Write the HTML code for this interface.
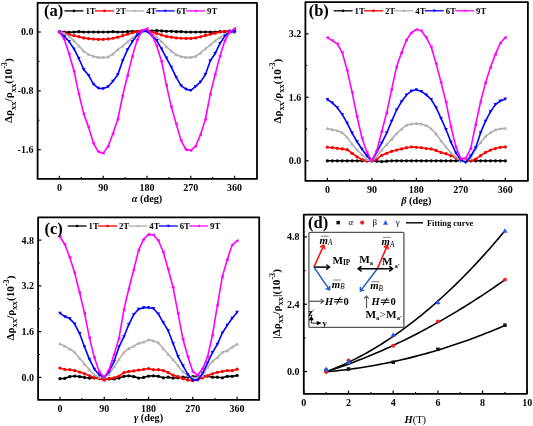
<!DOCTYPE html>
<html><head><meta charset="utf-8"><style>html,body{margin:0;padding:0;background:#fff;}svg{display:block;will-change:transform;}text{font-family:"Liberation Serif",serif;fill:#000;}</style></head><body>
<svg width="533" height="426" viewBox="0 0 533 426">
<rect width="533" height="426" fill="#fff"/>
<polyline points="59.4,32 64.27,32 69.13,32.37 74,32 78.87,31.63 83.73,32 88.6,32 93.47,32 98.34,32 103.2,32 108.07,32 112.94,31.63 117.8,32 122.67,32 127.54,31.63 132.41,31.27 137.27,31.27 142.14,31.27 147.01,31.27 151.87,30.9 156.74,30.53 161.61,30.9 166.47,31.27 171.34,31.27 176.21,31.63 181.08,31.63 185.94,32 190.81,32 195.68,32 200.54,32 205.41,32 210.28,32 215.14,32 220.01,31.63 224.88,31.63 229.75,31.63 234.61,32" fill="none" stroke="#000000" stroke-width="1.6" stroke-linejoin="round" stroke-linecap="round"/>
<circle cx="59.4" cy="32" r="1.62" fill="#000000"/>
<circle cx="64.27" cy="32" r="1.62" fill="#000000"/>
<circle cx="69.13" cy="32.37" r="1.62" fill="#000000"/>
<circle cx="74" cy="32" r="1.62" fill="#000000"/>
<circle cx="78.87" cy="31.63" r="1.62" fill="#000000"/>
<circle cx="83.73" cy="32" r="1.62" fill="#000000"/>
<circle cx="88.6" cy="32" r="1.62" fill="#000000"/>
<circle cx="93.47" cy="32" r="1.62" fill="#000000"/>
<circle cx="98.34" cy="32" r="1.62" fill="#000000"/>
<circle cx="103.2" cy="32" r="1.62" fill="#000000"/>
<circle cx="108.07" cy="32" r="1.62" fill="#000000"/>
<circle cx="112.94" cy="31.63" r="1.62" fill="#000000"/>
<circle cx="117.8" cy="32" r="1.62" fill="#000000"/>
<circle cx="122.67" cy="32" r="1.62" fill="#000000"/>
<circle cx="127.54" cy="31.63" r="1.62" fill="#000000"/>
<circle cx="132.41" cy="31.27" r="1.62" fill="#000000"/>
<circle cx="137.27" cy="31.27" r="1.62" fill="#000000"/>
<circle cx="142.14" cy="31.27" r="1.62" fill="#000000"/>
<circle cx="147.01" cy="31.27" r="1.62" fill="#000000"/>
<circle cx="151.87" cy="30.9" r="1.62" fill="#000000"/>
<circle cx="156.74" cy="30.53" r="1.62" fill="#000000"/>
<circle cx="161.61" cy="30.9" r="1.62" fill="#000000"/>
<circle cx="166.47" cy="31.27" r="1.62" fill="#000000"/>
<circle cx="171.34" cy="31.27" r="1.62" fill="#000000"/>
<circle cx="176.21" cy="31.63" r="1.62" fill="#000000"/>
<circle cx="181.08" cy="31.63" r="1.62" fill="#000000"/>
<circle cx="185.94" cy="32" r="1.62" fill="#000000"/>
<circle cx="190.81" cy="32" r="1.62" fill="#000000"/>
<circle cx="195.68" cy="32" r="1.62" fill="#000000"/>
<circle cx="200.54" cy="32" r="1.62" fill="#000000"/>
<circle cx="205.41" cy="32" r="1.62" fill="#000000"/>
<circle cx="210.28" cy="32" r="1.62" fill="#000000"/>
<circle cx="215.14" cy="32" r="1.62" fill="#000000"/>
<circle cx="220.01" cy="31.63" r="1.62" fill="#000000"/>
<circle cx="224.88" cy="31.63" r="1.62" fill="#000000"/>
<circle cx="229.75" cy="31.63" r="1.62" fill="#000000"/>
<circle cx="234.61" cy="32" r="1.62" fill="#000000"/>
<polyline points="59.4,32 64.27,32.81 69.13,34.43 74,35.67 78.87,36.7 83.73,37.88 88.6,38.62 93.47,39.06 98.34,39.35 103.2,39.35 108.07,38.98 112.94,38.25 117.8,37.15 122.67,35.67 127.54,34.2 132.41,32.73 137.27,31.63 142.14,30.9 147.01,30.9 151.87,32 156.74,33.47 161.61,34.94 166.47,36.41 171.34,37.15 176.21,37.88 181.08,38.25 185.94,38.39 190.81,38.39 195.68,37.88 200.54,36.78 205.41,35.38 210.28,34.2 215.14,33.18 220.01,32 224.88,31.27 229.75,30.97 234.61,31.27" fill="none" stroke="#ff0000" stroke-width="1.6" stroke-linejoin="round" stroke-linecap="round"/>
<circle cx="59.4" cy="32" r="1.62" fill="#ff0000"/>
<circle cx="64.27" cy="32.81" r="1.62" fill="#ff0000"/>
<circle cx="69.13" cy="34.43" r="1.62" fill="#ff0000"/>
<circle cx="74" cy="35.67" r="1.62" fill="#ff0000"/>
<circle cx="78.87" cy="36.7" r="1.62" fill="#ff0000"/>
<circle cx="83.73" cy="37.88" r="1.62" fill="#ff0000"/>
<circle cx="88.6" cy="38.62" r="1.62" fill="#ff0000"/>
<circle cx="93.47" cy="39.06" r="1.62" fill="#ff0000"/>
<circle cx="98.34" cy="39.35" r="1.62" fill="#ff0000"/>
<circle cx="103.2" cy="39.35" r="1.62" fill="#ff0000"/>
<circle cx="108.07" cy="38.98" r="1.62" fill="#ff0000"/>
<circle cx="112.94" cy="38.25" r="1.62" fill="#ff0000"/>
<circle cx="117.8" cy="37.15" r="1.62" fill="#ff0000"/>
<circle cx="122.67" cy="35.67" r="1.62" fill="#ff0000"/>
<circle cx="127.54" cy="34.2" r="1.62" fill="#ff0000"/>
<circle cx="132.41" cy="32.73" r="1.62" fill="#ff0000"/>
<circle cx="137.27" cy="31.63" r="1.62" fill="#ff0000"/>
<circle cx="142.14" cy="30.9" r="1.62" fill="#ff0000"/>
<circle cx="147.01" cy="30.9" r="1.62" fill="#ff0000"/>
<circle cx="151.87" cy="32" r="1.62" fill="#ff0000"/>
<circle cx="156.74" cy="33.47" r="1.62" fill="#ff0000"/>
<circle cx="161.61" cy="34.94" r="1.62" fill="#ff0000"/>
<circle cx="166.47" cy="36.41" r="1.62" fill="#ff0000"/>
<circle cx="171.34" cy="37.15" r="1.62" fill="#ff0000"/>
<circle cx="176.21" cy="37.88" r="1.62" fill="#ff0000"/>
<circle cx="181.08" cy="38.25" r="1.62" fill="#ff0000"/>
<circle cx="185.94" cy="38.39" r="1.62" fill="#ff0000"/>
<circle cx="190.81" cy="38.39" r="1.62" fill="#ff0000"/>
<circle cx="195.68" cy="37.88" r="1.62" fill="#ff0000"/>
<circle cx="200.54" cy="36.78" r="1.62" fill="#ff0000"/>
<circle cx="205.41" cy="35.38" r="1.62" fill="#ff0000"/>
<circle cx="210.28" cy="34.2" r="1.62" fill="#ff0000"/>
<circle cx="215.14" cy="33.18" r="1.62" fill="#ff0000"/>
<circle cx="220.01" cy="32" r="1.62" fill="#ff0000"/>
<circle cx="224.88" cy="31.27" r="1.62" fill="#ff0000"/>
<circle cx="229.75" cy="30.97" r="1.62" fill="#ff0000"/>
<circle cx="234.61" cy="31.27" r="1.62" fill="#ff0000"/>
<polyline points="59.4,32 64.27,33.47 69.13,36.41 74,40.82 78.87,45.97 83.73,51.11 88.6,54.42 93.47,56.26 98.34,57.36 103.2,57.36 108.07,56.99 112.94,54.05 117.8,49.64 122.67,45.97 127.54,41.92 132.41,37.88 137.27,34.2 142.14,32 147.01,31.27 151.87,34.2 156.74,37.15 161.61,41.55 166.47,46.7 171.34,51.11 176.21,54.78 181.08,56.62 185.94,57.36 190.81,57.36 195.68,56.26 200.54,52.95 205.41,48.91 210.28,44.86 215.14,40.82 220.01,37.51 224.88,34.57 229.75,32 234.61,31.27" fill="none" stroke="#b0b0b0" stroke-width="1.6" stroke-linejoin="round" stroke-linecap="round"/>
<path d="M59.4 30.2L61.2 33.44L57.6 33.44Z" fill="#b0b0b0"/>
<path d="M64.27 31.67L66.07 34.91L62.47 34.91Z" fill="#b0b0b0"/>
<path d="M69.13 34.61L70.93 37.85L67.33 37.85Z" fill="#b0b0b0"/>
<path d="M74 39.02L75.8 42.26L72.2 42.26Z" fill="#b0b0b0"/>
<path d="M78.87 44.17L80.67 47.41L77.07 47.41Z" fill="#b0b0b0"/>
<path d="M83.73 49.31L85.53 52.55L81.94 52.55Z" fill="#b0b0b0"/>
<path d="M88.6 52.62L90.4 55.86L86.8 55.86Z" fill="#b0b0b0"/>
<path d="M93.47 54.46L95.27 57.7L91.67 57.7Z" fill="#b0b0b0"/>
<path d="M98.34 55.56L100.14 58.8L96.54 58.8Z" fill="#b0b0b0"/>
<path d="M103.2 55.56L105 58.8L101.4 58.8Z" fill="#b0b0b0"/>
<path d="M108.07 55.19L109.87 58.43L106.27 58.43Z" fill="#b0b0b0"/>
<path d="M112.94 52.25L114.74 55.49L111.14 55.49Z" fill="#b0b0b0"/>
<path d="M117.8 47.84L119.6 51.08L116 51.08Z" fill="#b0b0b0"/>
<path d="M122.67 44.17L124.47 47.41L120.87 47.41Z" fill="#b0b0b0"/>
<path d="M127.54 40.12L129.34 43.36L125.74 43.36Z" fill="#b0b0b0"/>
<path d="M132.41 36.08L134.21 39.32L130.6 39.32Z" fill="#b0b0b0"/>
<path d="M137.27 32.41L139.07 35.64L135.47 35.64Z" fill="#b0b0b0"/>
<path d="M142.14 30.2L143.94 33.44L140.34 33.44Z" fill="#b0b0b0"/>
<path d="M147.01 29.46L148.81 32.7L145.21 32.7Z" fill="#b0b0b0"/>
<path d="M151.87 32.41L153.67 35.64L150.07 35.64Z" fill="#b0b0b0"/>
<path d="M156.74 35.35L158.54 38.59L154.94 38.59Z" fill="#b0b0b0"/>
<path d="M161.61 39.76L163.41 42.99L159.81 42.99Z" fill="#b0b0b0"/>
<path d="M166.47 44.9L168.27 48.14L164.67 48.14Z" fill="#b0b0b0"/>
<path d="M171.34 49.31L173.14 52.55L169.54 52.55Z" fill="#b0b0b0"/>
<path d="M176.21 52.98L178.01 56.22L174.41 56.22Z" fill="#b0b0b0"/>
<path d="M181.08 54.82L182.88 58.06L179.28 58.06Z" fill="#b0b0b0"/>
<path d="M185.94 55.56L187.74 58.8L184.14 58.8Z" fill="#b0b0b0"/>
<path d="M190.81 55.56L192.61 58.8L189.01 58.8Z" fill="#b0b0b0"/>
<path d="M195.68 54.46L197.48 57.7L193.88 57.7Z" fill="#b0b0b0"/>
<path d="M200.54 51.15L202.34 54.39L198.74 54.39Z" fill="#b0b0b0"/>
<path d="M205.41 47.11L207.21 50.34L203.61 50.34Z" fill="#b0b0b0"/>
<path d="M210.28 43.06L212.08 46.3L208.48 46.3Z" fill="#b0b0b0"/>
<path d="M215.14 39.02L216.94 42.26L213.34 42.26Z" fill="#b0b0b0"/>
<path d="M220.01 35.71L221.81 38.95L218.21 38.95Z" fill="#b0b0b0"/>
<path d="M224.88 32.77L226.68 36.01L223.08 36.01Z" fill="#b0b0b0"/>
<path d="M229.75 30.2L231.55 33.44L227.94 33.44Z" fill="#b0b0b0"/>
<path d="M234.61 29.46L236.41 32.7L232.81 32.7Z" fill="#b0b0b0"/>
<polyline points="59.4,32 64.27,36.41 69.13,41.55 74,48.91 78.87,58.46 83.73,69.48 88.6,75.36 93.47,84.19 98.34,88.23 103.2,88.59 108.07,86.76 112.94,81.25 117.8,74.63 122.67,60.67 127.54,49.64 132.41,41.55 137.27,34.94 142.14,31.27 147.01,31.27 151.87,35.67 156.74,40.53 161.61,48.91 166.47,58.02 171.34,67.13 176.21,77.28 181.08,85.58 185.94,89.18 190.81,90.36 195.68,86.39 200.54,81.83 205.41,74.56 210.28,60.74 215.14,53.46 220.01,43.32 224.88,35.97 229.75,32 234.61,31.41" fill="none" stroke="#0000ff" stroke-width="1.6" stroke-linejoin="round" stroke-linecap="round"/>
<path d="M59.4 33.8L61.2 30.56L57.6 30.56Z" fill="#0000ff"/>
<path d="M64.27 38.21L66.07 34.97L62.47 34.97Z" fill="#0000ff"/>
<path d="M69.13 43.35L70.93 40.12L67.33 40.12Z" fill="#0000ff"/>
<path d="M74 50.7L75.8 47.47L72.2 47.47Z" fill="#0000ff"/>
<path d="M78.87 60.26L80.67 57.02L77.07 57.02Z" fill="#0000ff"/>
<path d="M83.73 71.28L85.53 68.05L81.94 68.05Z" fill="#0000ff"/>
<path d="M88.6 77.16L90.4 73.92L86.8 73.92Z" fill="#0000ff"/>
<path d="M93.47 85.98L95.27 82.75L91.67 82.75Z" fill="#0000ff"/>
<path d="M98.34 90.03L100.14 86.79L96.54 86.79Z" fill="#0000ff"/>
<path d="M103.2 90.39L105 87.16L101.4 87.16Z" fill="#0000ff"/>
<path d="M108.07 88.56L109.87 85.32L106.27 85.32Z" fill="#0000ff"/>
<path d="M112.94 83.05L114.74 79.81L111.14 79.81Z" fill="#0000ff"/>
<path d="M117.8 76.43L119.6 73.19L116 73.19Z" fill="#0000ff"/>
<path d="M122.67 62.47L124.47 59.23L120.87 59.23Z" fill="#0000ff"/>
<path d="M127.54 51.44L129.34 48.2L125.74 48.2Z" fill="#0000ff"/>
<path d="M132.41 43.35L134.21 40.12L130.6 40.12Z" fill="#0000ff"/>
<path d="M137.27 36.74L139.07 33.5L135.47 33.5Z" fill="#0000ff"/>
<path d="M142.14 33.06L143.94 29.82L140.34 29.82Z" fill="#0000ff"/>
<path d="M147.01 33.06L148.81 29.82L145.21 29.82Z" fill="#0000ff"/>
<path d="M151.87 37.47L153.67 34.23L150.07 34.23Z" fill="#0000ff"/>
<path d="M156.74 42.33L158.54 39.09L154.94 39.09Z" fill="#0000ff"/>
<path d="M161.61 50.7L163.41 47.47L159.81 47.47Z" fill="#0000ff"/>
<path d="M166.47 59.82L168.27 56.58L164.67 56.58Z" fill="#0000ff"/>
<path d="M171.34 68.93L173.14 65.69L169.54 65.69Z" fill="#0000ff"/>
<path d="M176.21 79.08L178.01 75.84L174.41 75.84Z" fill="#0000ff"/>
<path d="M181.08 87.38L182.88 84.14L179.28 84.14Z" fill="#0000ff"/>
<path d="M185.94 90.98L187.74 87.74L184.14 87.74Z" fill="#0000ff"/>
<path d="M190.81 92.16L192.61 88.92L189.01 88.92Z" fill="#0000ff"/>
<path d="M195.68 88.19L197.48 84.95L193.88 84.95Z" fill="#0000ff"/>
<path d="M200.54 83.63L202.34 80.39L198.74 80.39Z" fill="#0000ff"/>
<path d="M205.41 76.36L207.21 73.12L203.61 73.12Z" fill="#0000ff"/>
<path d="M210.28 62.54L212.08 59.3L208.48 59.3Z" fill="#0000ff"/>
<path d="M215.14 55.26L216.94 52.02L213.34 52.02Z" fill="#0000ff"/>
<path d="M220.01 45.12L221.81 41.88L218.21 41.88Z" fill="#0000ff"/>
<path d="M224.88 37.77L226.68 34.53L223.08 34.53Z" fill="#0000ff"/>
<path d="M229.75 33.8L231.55 30.56L227.94 30.56Z" fill="#0000ff"/>
<path d="M234.61 33.21L236.41 29.97L232.81 29.97Z" fill="#0000ff"/>
<polyline points="59.4,32 64.27,39.35 69.13,54.05 74,70.96 78.87,94.11 83.73,113.88 88.6,127.11 93.47,143.28 98.34,151.81 103.2,153.13 108.07,146.37 112.94,133.5 117.8,119.24 122.67,95.65 127.54,75.44 132.41,56.11 137.27,39.64 142.14,30.53 147.01,28.62 151.87,34.94 156.74,45.97 161.61,61.4 166.47,85.36 171.34,106.9 176.21,123.88 181.08,140.56 185.94,149.6 190.81,150.34 195.68,146.07 200.54,134.46 205.41,119.24 210.28,94.11 215.14,74.56 220.01,56.11 224.88,40.53 229.75,32 234.61,28.62" fill="none" stroke="#ff00ff" stroke-width="1.6" stroke-linejoin="round" stroke-linecap="round"/>
<path d="M57.6 32L60.84 30.2L60.84 33.8Z" fill="#ff00ff"/>
<path d="M62.47 39.35L65.71 37.55L65.71 41.15Z" fill="#ff00ff"/>
<path d="M67.33 54.05L70.57 52.25L70.57 55.85Z" fill="#ff00ff"/>
<path d="M72.2 70.96L75.44 69.16L75.44 72.76Z" fill="#ff00ff"/>
<path d="M77.07 94.11L80.31 92.31L80.31 95.91Z" fill="#ff00ff"/>
<path d="M81.94 113.88L85.17 112.08L85.17 115.68Z" fill="#ff00ff"/>
<path d="M86.8 127.11L90.04 125.31L90.04 128.91Z" fill="#ff00ff"/>
<path d="M91.67 143.28L94.91 141.48L94.91 145.08Z" fill="#ff00ff"/>
<path d="M96.54 151.81L99.78 150L99.78 153.61Z" fill="#ff00ff"/>
<path d="M101.4 153.13L104.64 151.33L104.64 154.93Z" fill="#ff00ff"/>
<path d="M106.27 146.37L109.51 144.57L109.51 148.17Z" fill="#ff00ff"/>
<path d="M111.14 133.5L114.38 131.7L114.38 135.3Z" fill="#ff00ff"/>
<path d="M116 119.24L119.24 117.44L119.24 121.04Z" fill="#ff00ff"/>
<path d="M120.87 95.65L124.11 93.85L124.11 97.45Z" fill="#ff00ff"/>
<path d="M125.74 75.44L128.98 73.64L128.98 77.24Z" fill="#ff00ff"/>
<path d="M130.6 56.11L133.84 54.31L133.84 57.91Z" fill="#ff00ff"/>
<path d="M135.47 39.64L138.71 37.84L138.71 41.44Z" fill="#ff00ff"/>
<path d="M140.34 30.53L143.58 28.73L143.58 32.33Z" fill="#ff00ff"/>
<path d="M145.21 28.62L148.45 26.82L148.45 30.42Z" fill="#ff00ff"/>
<path d="M150.07 34.94L153.31 33.14L153.31 36.74Z" fill="#ff00ff"/>
<path d="M154.94 45.97L158.18 44.17L158.18 47.77Z" fill="#ff00ff"/>
<path d="M159.81 61.4L163.05 59.6L163.05 63.2Z" fill="#ff00ff"/>
<path d="M164.67 85.36L167.91 83.56L167.91 87.16Z" fill="#ff00ff"/>
<path d="M169.54 106.9L172.78 105.1L172.78 108.7Z" fill="#ff00ff"/>
<path d="M174.41 123.88L177.65 122.08L177.65 125.67Z" fill="#ff00ff"/>
<path d="M179.28 140.56L182.52 138.76L182.52 142.36Z" fill="#ff00ff"/>
<path d="M184.14 149.6L187.38 147.8L187.38 151.4Z" fill="#ff00ff"/>
<path d="M189.01 150.34L192.25 148.53L192.25 152.14Z" fill="#ff00ff"/>
<path d="M193.88 146.07L197.12 144.27L197.12 147.87Z" fill="#ff00ff"/>
<path d="M198.74 134.46L201.98 132.66L201.98 136.26Z" fill="#ff00ff"/>
<path d="M203.61 119.24L206.85 117.44L206.85 121.04Z" fill="#ff00ff"/>
<path d="M208.48 94.11L211.72 92.31L211.72 95.91Z" fill="#ff00ff"/>
<path d="M213.34 74.56L216.58 72.76L216.58 76.36Z" fill="#ff00ff"/>
<path d="M218.21 56.11L221.45 54.31L221.45 57.91Z" fill="#ff00ff"/>
<path d="M223.08 40.53L226.32 38.73L226.32 42.33Z" fill="#ff00ff"/>
<path d="M227.94 32L231.19 30.2L231.19 33.8Z" fill="#ff00ff"/>
<path d="M232.81 28.62L236.05 26.82L236.05 30.42Z" fill="#ff00ff"/>
<rect x="37.6" y="2.9" width="219.4" height="176" fill="none" stroke="#000" stroke-width="1.8" stroke-linejoin="round"/>
<line x1="59.4" y1="178.9" x2="59.4" y2="175.7" stroke="#000" stroke-width="1.2"/>
<line x1="103.2" y1="178.9" x2="103.2" y2="175.7" stroke="#000" stroke-width="1.2"/>
<line x1="147.01" y1="178.9" x2="147.01" y2="175.7" stroke="#000" stroke-width="1.2"/>
<line x1="190.81" y1="178.9" x2="190.81" y2="175.7" stroke="#000" stroke-width="1.2"/>
<line x1="234.61" y1="178.9" x2="234.61" y2="175.7" stroke="#000" stroke-width="1.2"/>
<line x1="81.3" y1="178.9" x2="81.3" y2="177.1" stroke="#000" stroke-width="1.1"/>
<line x1="125.1" y1="178.9" x2="125.1" y2="177.1" stroke="#000" stroke-width="1.1"/>
<line x1="168.91" y1="178.9" x2="168.91" y2="177.1" stroke="#000" stroke-width="1.1"/>
<line x1="212.71" y1="178.9" x2="212.71" y2="177.1" stroke="#000" stroke-width="1.1"/>
<line x1="37.6" y1="32" x2="40.8" y2="32" stroke="#000" stroke-width="1.2"/>
<line x1="37.6" y1="90.85" x2="40.8" y2="90.85" stroke="#000" stroke-width="1.2"/>
<line x1="37.6" y1="149.7" x2="40.8" y2="149.7" stroke="#000" stroke-width="1.2"/>
<line x1="37.6" y1="61.42" x2="39.4" y2="61.42" stroke="#000" stroke-width="1.1"/>
<line x1="37.6" y1="120.27" x2="39.4" y2="120.27" stroke="#000" stroke-width="1.1"/>
<text x="33.4" y="35.4" font-size="10" text-anchor="end" font-weight="bold" font-style="normal" >0.0</text>
<text x="33.4" y="94.25" font-size="10" text-anchor="end" font-weight="bold" font-style="normal" >-0.8</text>
<text x="33.4" y="153.1" font-size="10" text-anchor="end" font-weight="bold" font-style="normal" >-1.6</text>
<text x="59.4" y="190.9" font-size="10" text-anchor="middle" font-weight="bold" font-style="normal" >0</text>
<text x="103.2" y="190.9" font-size="10" text-anchor="middle" font-weight="bold" font-style="normal" >90</text>
<text x="147.01" y="190.9" font-size="10" text-anchor="middle" font-weight="bold" font-style="normal" >180</text>
<text x="190.81" y="190.9" font-size="10" text-anchor="middle" font-weight="bold" font-style="normal" >270</text>
<text x="234.61" y="190.9" font-size="10" text-anchor="middle" font-weight="bold" font-style="normal" >360</text>
<text x="147.01" y="201.7" font-size="10.3" font-weight="bold" text-anchor="middle"><tspan font-style="italic">α</tspan> (deg)</text>
<text transform="translate(12.3,90.7) rotate(-90)" x="0" y="0" font-size="11.2" font-weight="bold" text-anchor="middle">Δρ<tspan font-size="8.6" dy="3.2">xx</tspan><tspan dy="-3.2">/ρ</tspan><tspan font-size="8.6" dy="3.2">xx</tspan><tspan dy="-3.2">(10</tspan><tspan font-size="8.2" dy="-5.2">-3</tspan><tspan dy="5.2">)</tspan></text>
<text x="44" y="15.9" font-size="16.5" text-anchor="start" font-weight="bold" font-style="normal" >(a)</text>
<line x1="64.5" y1="10.9" x2="83.5" y2="10.9" stroke="#000000" stroke-width="1.3"/>
<circle cx="74" cy="10.9" r="1.35" fill="#000000"/>
<text x="85.4" y="13.9" font-size="8.8" text-anchor="start" font-weight="bold" font-style="normal" >1T</text>
<line x1="94.9" y1="10.9" x2="113.9" y2="10.9" stroke="#ff0000" stroke-width="1.3"/>
<circle cx="104.4" cy="10.9" r="1.35" fill="#ff0000"/>
<text x="115.8" y="13.9" font-size="8.8" text-anchor="start" font-weight="bold" font-style="normal" >2T</text>
<line x1="125.3" y1="10.9" x2="144.3" y2="10.9" stroke="#b0b0b0" stroke-width="1.3"/>
<path d="M134.8 9.4L136.3 12.1L133.3 12.1Z" fill="#b0b0b0"/>
<text x="146.2" y="13.9" font-size="8.8" text-anchor="start" font-weight="bold" font-style="normal" >4T</text>
<line x1="155.7" y1="10.9" x2="174.7" y2="10.9" stroke="#0000ff" stroke-width="1.3"/>
<path d="M165.2 12.4L166.7 9.7L163.7 9.7Z" fill="#0000ff"/>
<text x="176.6" y="13.9" font-size="8.8" text-anchor="start" font-weight="bold" font-style="normal" >6T</text>
<line x1="186.1" y1="10.9" x2="205.1" y2="10.9" stroke="#ff00ff" stroke-width="1.3"/>
<path d="M194.1 10.9L196.8 9.4L196.8 12.4Z" fill="#ff00ff"/>
<text x="207" y="13.9" font-size="8.8" text-anchor="start" font-weight="bold" font-style="normal" >9T</text>
<polyline points="327.4,160.8 332.34,160.8 337.28,160.8 342.23,160.8 347.17,160.8 352.11,160.8 357.05,160.8 361.99,160.8 366.94,160.8 371.88,160.8 376.82,161.2 381.76,161.59 386.7,161.2 391.65,160.8 396.59,160.8 401.53,160.8 406.47,160.8 411.41,160.8 416.36,160.8 421.3,160.8 426.24,160.8 431.18,160.8 436.12,160.8 441.07,160.8 446.01,160.8 450.95,160.8 455.89,160.8 460.83,160.8 465.78,160.8 470.72,160.8 475.66,160.8 480.6,160.8 485.54,160.8 490.49,160.8 495.43,160.8 500.37,160.8 505.31,160.8" fill="none" stroke="#000000" stroke-width="1.6" stroke-linejoin="round" stroke-linecap="round"/>
<circle cx="327.4" cy="160.8" r="1.62" fill="#000000"/>
<circle cx="332.34" cy="160.8" r="1.62" fill="#000000"/>
<circle cx="337.28" cy="160.8" r="1.62" fill="#000000"/>
<circle cx="342.23" cy="160.8" r="1.62" fill="#000000"/>
<circle cx="347.17" cy="160.8" r="1.62" fill="#000000"/>
<circle cx="352.11" cy="160.8" r="1.62" fill="#000000"/>
<circle cx="357.05" cy="160.8" r="1.62" fill="#000000"/>
<circle cx="361.99" cy="160.8" r="1.62" fill="#000000"/>
<circle cx="366.94" cy="160.8" r="1.62" fill="#000000"/>
<circle cx="371.88" cy="160.8" r="1.62" fill="#000000"/>
<circle cx="376.82" cy="161.2" r="1.62" fill="#000000"/>
<circle cx="381.76" cy="161.59" r="1.62" fill="#000000"/>
<circle cx="386.7" cy="161.2" r="1.62" fill="#000000"/>
<circle cx="391.65" cy="160.8" r="1.62" fill="#000000"/>
<circle cx="396.59" cy="160.8" r="1.62" fill="#000000"/>
<circle cx="401.53" cy="160.8" r="1.62" fill="#000000"/>
<circle cx="406.47" cy="160.8" r="1.62" fill="#000000"/>
<circle cx="411.41" cy="160.8" r="1.62" fill="#000000"/>
<circle cx="416.36" cy="160.8" r="1.62" fill="#000000"/>
<circle cx="421.3" cy="160.8" r="1.62" fill="#000000"/>
<circle cx="426.24" cy="160.8" r="1.62" fill="#000000"/>
<circle cx="431.18" cy="160.8" r="1.62" fill="#000000"/>
<circle cx="436.12" cy="160.8" r="1.62" fill="#000000"/>
<circle cx="441.07" cy="160.8" r="1.62" fill="#000000"/>
<circle cx="446.01" cy="160.8" r="1.62" fill="#000000"/>
<circle cx="450.95" cy="160.8" r="1.62" fill="#000000"/>
<circle cx="455.89" cy="160.8" r="1.62" fill="#000000"/>
<circle cx="460.83" cy="160.8" r="1.62" fill="#000000"/>
<circle cx="465.78" cy="160.8" r="1.62" fill="#000000"/>
<circle cx="470.72" cy="160.8" r="1.62" fill="#000000"/>
<circle cx="475.66" cy="160.8" r="1.62" fill="#000000"/>
<circle cx="480.6" cy="160.8" r="1.62" fill="#000000"/>
<circle cx="485.54" cy="160.8" r="1.62" fill="#000000"/>
<circle cx="490.49" cy="160.8" r="1.62" fill="#000000"/>
<circle cx="495.43" cy="160.8" r="1.62" fill="#000000"/>
<circle cx="500.37" cy="160.8" r="1.62" fill="#000000"/>
<circle cx="505.31" cy="160.8" r="1.62" fill="#000000"/>
<polyline points="327.4,147.2 332.34,147.71 337.28,148.31 342.23,148.9 347.17,149.7 352.11,153.26 357.05,156.83 361.99,159.61 366.94,160.8 371.88,160.8 376.82,159.21 381.76,155.25 386.7,153.26 391.65,151.28 396.59,150.09 401.53,148.9 406.47,147.71 411.41,146.92 416.36,147.32 421.3,147.71 426.24,148.51 431.18,148.9 436.12,150.49 441.07,152.47 446.01,153.66 450.95,155.64 455.89,158.02 460.83,160.01 465.78,160.8 470.72,160.8 475.66,159.21 480.6,155.64 485.54,152.47 490.49,150.09 495.43,148.51 500.37,147.32 505.31,146.92" fill="none" stroke="#ff0000" stroke-width="1.6" stroke-linejoin="round" stroke-linecap="round"/>
<circle cx="327.4" cy="147.2" r="1.62" fill="#ff0000"/>
<circle cx="332.34" cy="147.71" r="1.62" fill="#ff0000"/>
<circle cx="337.28" cy="148.31" r="1.62" fill="#ff0000"/>
<circle cx="342.23" cy="148.9" r="1.62" fill="#ff0000"/>
<circle cx="347.17" cy="149.7" r="1.62" fill="#ff0000"/>
<circle cx="352.11" cy="153.26" r="1.62" fill="#ff0000"/>
<circle cx="357.05" cy="156.83" r="1.62" fill="#ff0000"/>
<circle cx="361.99" cy="159.61" r="1.62" fill="#ff0000"/>
<circle cx="366.94" cy="160.8" r="1.62" fill="#ff0000"/>
<circle cx="371.88" cy="160.8" r="1.62" fill="#ff0000"/>
<circle cx="376.82" cy="159.21" r="1.62" fill="#ff0000"/>
<circle cx="381.76" cy="155.25" r="1.62" fill="#ff0000"/>
<circle cx="386.7" cy="153.26" r="1.62" fill="#ff0000"/>
<circle cx="391.65" cy="151.28" r="1.62" fill="#ff0000"/>
<circle cx="396.59" cy="150.09" r="1.62" fill="#ff0000"/>
<circle cx="401.53" cy="148.9" r="1.62" fill="#ff0000"/>
<circle cx="406.47" cy="147.71" r="1.62" fill="#ff0000"/>
<circle cx="411.41" cy="146.92" r="1.62" fill="#ff0000"/>
<circle cx="416.36" cy="147.32" r="1.62" fill="#ff0000"/>
<circle cx="421.3" cy="147.71" r="1.62" fill="#ff0000"/>
<circle cx="426.24" cy="148.51" r="1.62" fill="#ff0000"/>
<circle cx="431.18" cy="148.9" r="1.62" fill="#ff0000"/>
<circle cx="436.12" cy="150.49" r="1.62" fill="#ff0000"/>
<circle cx="441.07" cy="152.47" r="1.62" fill="#ff0000"/>
<circle cx="446.01" cy="153.66" r="1.62" fill="#ff0000"/>
<circle cx="450.95" cy="155.64" r="1.62" fill="#ff0000"/>
<circle cx="455.89" cy="158.02" r="1.62" fill="#ff0000"/>
<circle cx="460.83" cy="160.01" r="1.62" fill="#ff0000"/>
<circle cx="465.78" cy="160.8" r="1.62" fill="#ff0000"/>
<circle cx="470.72" cy="160.8" r="1.62" fill="#ff0000"/>
<circle cx="475.66" cy="159.21" r="1.62" fill="#ff0000"/>
<circle cx="480.6" cy="155.64" r="1.62" fill="#ff0000"/>
<circle cx="485.54" cy="152.47" r="1.62" fill="#ff0000"/>
<circle cx="490.49" cy="150.09" r="1.62" fill="#ff0000"/>
<circle cx="495.43" cy="148.51" r="1.62" fill="#ff0000"/>
<circle cx="500.37" cy="147.32" r="1.62" fill="#ff0000"/>
<circle cx="505.31" cy="146.92" r="1.62" fill="#ff0000"/>
<polyline points="327.4,128.52 332.34,129.47 337.28,130.66 342.23,132.64 347.17,137.4 352.11,144.14 357.05,149.7 361.99,154.85 366.94,159.61 371.88,160.8 376.82,156.83 381.76,150.09 386.7,144.54 391.65,139.38 396.59,133.43 401.53,129.07 406.47,125.11 411.41,123.92 416.36,123.52 421.3,123.92 426.24,125.5 431.18,128.68 436.12,133.83 441.07,140.97 446.01,146.92 450.95,152.87 455.89,156.83 460.83,160.8 465.78,160.8 470.72,158.42 475.66,148.9 480.6,142.56 485.54,136.61 490.49,132.64 495.43,129.87 500.37,128.68 505.31,128.28" fill="none" stroke="#b0b0b0" stroke-width="1.6" stroke-linejoin="round" stroke-linecap="round"/>
<path d="M327.4 126.72L329.2 129.96L325.6 129.96Z" fill="#b0b0b0"/>
<path d="M332.34 127.67L334.14 130.91L330.54 130.91Z" fill="#b0b0b0"/>
<path d="M337.28 128.86L339.08 132.1L335.48 132.1Z" fill="#b0b0b0"/>
<path d="M342.23 130.84L344.03 134.08L340.43 134.08Z" fill="#b0b0b0"/>
<path d="M347.17 135.6L348.97 138.84L345.37 138.84Z" fill="#b0b0b0"/>
<path d="M352.11 142.34L353.91 145.58L350.31 145.58Z" fill="#b0b0b0"/>
<path d="M357.05 147.9L358.85 151.14L355.25 151.14Z" fill="#b0b0b0"/>
<path d="M361.99 153.05L363.79 156.29L360.19 156.29Z" fill="#b0b0b0"/>
<path d="M366.94 157.81L368.74 161.05L365.14 161.05Z" fill="#b0b0b0"/>
<path d="M371.88 159L373.68 162.24L370.08 162.24Z" fill="#b0b0b0"/>
<path d="M376.82 155.03L378.62 158.27L375.02 158.27Z" fill="#b0b0b0"/>
<path d="M381.76 148.29L383.56 151.53L379.96 151.53Z" fill="#b0b0b0"/>
<path d="M386.7 142.74L388.5 145.98L384.9 145.98Z" fill="#b0b0b0"/>
<path d="M391.65 137.58L393.45 140.82L389.85 140.82Z" fill="#b0b0b0"/>
<path d="M396.59 131.63L398.39 134.87L394.79 134.87Z" fill="#b0b0b0"/>
<path d="M401.53 127.27L403.33 130.51L399.73 130.51Z" fill="#b0b0b0"/>
<path d="M406.47 123.31L408.27 126.55L404.67 126.55Z" fill="#b0b0b0"/>
<path d="M411.41 122.12L413.21 125.36L409.61 125.36Z" fill="#b0b0b0"/>
<path d="M416.36 121.72L418.16 124.96L414.56 124.96Z" fill="#b0b0b0"/>
<path d="M421.3 122.12L423.1 125.36L419.5 125.36Z" fill="#b0b0b0"/>
<path d="M426.24 123.7L428.04 126.94L424.44 126.94Z" fill="#b0b0b0"/>
<path d="M431.18 126.88L432.98 130.12L429.38 130.12Z" fill="#b0b0b0"/>
<path d="M436.12 132.03L437.92 135.27L434.32 135.27Z" fill="#b0b0b0"/>
<path d="M441.07 139.17L442.87 142.41L439.27 142.41Z" fill="#b0b0b0"/>
<path d="M446.01 145.12L447.81 148.36L444.21 148.36Z" fill="#b0b0b0"/>
<path d="M450.95 151.07L452.75 154.31L449.15 154.31Z" fill="#b0b0b0"/>
<path d="M455.89 155.03L457.69 158.27L454.09 158.27Z" fill="#b0b0b0"/>
<path d="M460.83 159L462.63 162.24L459.03 162.24Z" fill="#b0b0b0"/>
<path d="M465.78 159L467.58 162.24L463.98 162.24Z" fill="#b0b0b0"/>
<path d="M470.72 156.62L472.52 159.86L468.92 159.86Z" fill="#b0b0b0"/>
<path d="M475.66 147.1L477.46 150.34L473.86 150.34Z" fill="#b0b0b0"/>
<path d="M480.6 140.76L482.4 144L478.8 144Z" fill="#b0b0b0"/>
<path d="M485.54 134.81L487.34 138.05L483.74 138.05Z" fill="#b0b0b0"/>
<path d="M490.49 130.84L492.29 134.08L488.69 134.08Z" fill="#b0b0b0"/>
<path d="M495.43 128.07L497.23 131.31L493.63 131.31Z" fill="#b0b0b0"/>
<path d="M500.37 126.88L502.17 130.12L498.57 130.12Z" fill="#b0b0b0"/>
<path d="M505.31 126.48L507.11 129.72L503.51 129.72Z" fill="#b0b0b0"/>
<polyline points="327.4,99.49 332.34,102.9 337.28,107.66 342.23,114.4 347.17,123.12 352.11,133.04 357.05,141.76 361.99,149.3 366.94,156.04 371.88,160.8 376.82,152.07 381.76,142.95 386.7,133.04 391.65,121.14 396.59,110.04 401.53,101.71 406.47,94.96 411.41,91 416.36,89.81 421.3,91.4 426.24,94.96 431.18,99.33 436.12,107.66 441.07,118.36 446.01,129.47 450.95,142.16 455.89,152.87 460.83,160.01 465.78,162.39 470.72,156.04 475.66,147.71 480.6,132.64 485.54,121.14 490.49,111.62 495.43,104.48 500.37,100.91 505.31,98.93" fill="none" stroke="#0000ff" stroke-width="1.6" stroke-linejoin="round" stroke-linecap="round"/>
<path d="M327.4 101.29L329.2 98.05L325.6 98.05Z" fill="#0000ff"/>
<path d="M332.34 104.7L334.14 101.46L330.54 101.46Z" fill="#0000ff"/>
<path d="M337.28 109.46L339.08 106.22L335.48 106.22Z" fill="#0000ff"/>
<path d="M342.23 116.2L344.03 112.96L340.43 112.96Z" fill="#0000ff"/>
<path d="M347.17 124.92L348.97 121.68L345.37 121.68Z" fill="#0000ff"/>
<path d="M352.11 134.84L353.91 131.6L350.31 131.6Z" fill="#0000ff"/>
<path d="M357.05 143.56L358.85 140.32L355.25 140.32Z" fill="#0000ff"/>
<path d="M361.99 151.1L363.79 147.86L360.19 147.86Z" fill="#0000ff"/>
<path d="M366.94 157.84L368.74 154.6L365.14 154.6Z" fill="#0000ff"/>
<path d="M371.88 162.6L373.68 159.36L370.08 159.36Z" fill="#0000ff"/>
<path d="M376.82 153.87L378.62 150.63L375.02 150.63Z" fill="#0000ff"/>
<path d="M381.76 144.75L383.56 141.51L379.96 141.51Z" fill="#0000ff"/>
<path d="M386.7 134.84L388.5 131.6L384.9 131.6Z" fill="#0000ff"/>
<path d="M391.65 122.94L393.45 119.7L389.85 119.7Z" fill="#0000ff"/>
<path d="M396.59 111.84L398.39 108.6L394.79 108.6Z" fill="#0000ff"/>
<path d="M401.53 103.51L403.33 100.27L399.73 100.27Z" fill="#0000ff"/>
<path d="M406.47 96.76L408.27 93.52L404.67 93.52Z" fill="#0000ff"/>
<path d="M411.41 92.8L413.21 89.56L409.61 89.56Z" fill="#0000ff"/>
<path d="M416.36 91.61L418.16 88.37L414.56 88.37Z" fill="#0000ff"/>
<path d="M421.3 93.2L423.1 89.96L419.5 89.96Z" fill="#0000ff"/>
<path d="M426.24 96.76L428.04 93.52L424.44 93.52Z" fill="#0000ff"/>
<path d="M431.18 101.13L432.98 97.89L429.38 97.89Z" fill="#0000ff"/>
<path d="M436.12 109.46L437.92 106.22L434.32 106.22Z" fill="#0000ff"/>
<path d="M441.07 120.16L442.87 116.92L439.27 116.92Z" fill="#0000ff"/>
<path d="M446.01 131.27L447.81 128.03L444.21 128.03Z" fill="#0000ff"/>
<path d="M450.95 143.96L452.75 140.72L449.15 140.72Z" fill="#0000ff"/>
<path d="M455.89 154.67L457.69 151.43L454.09 151.43Z" fill="#0000ff"/>
<path d="M460.83 161.81L462.63 158.57L459.03 158.57Z" fill="#0000ff"/>
<path d="M465.78 164.19L467.58 160.95L463.98 160.95Z" fill="#0000ff"/>
<path d="M470.72 157.84L472.52 154.6L468.92 154.6Z" fill="#0000ff"/>
<path d="M475.66 149.51L477.46 146.27L473.86 146.27Z" fill="#0000ff"/>
<path d="M480.6 134.44L482.4 131.2L478.8 131.2Z" fill="#0000ff"/>
<path d="M485.54 122.94L487.34 119.7L483.74 119.7Z" fill="#0000ff"/>
<path d="M490.49 113.42L492.29 110.18L488.69 110.18Z" fill="#0000ff"/>
<path d="M495.43 106.28L497.23 103.04L493.63 103.04Z" fill="#0000ff"/>
<path d="M500.37 102.71L502.17 99.47L498.57 99.47Z" fill="#0000ff"/>
<path d="M505.31 100.73L507.11 97.49L503.51 97.49Z" fill="#0000ff"/>
<polyline points="327.4,37.46 332.34,40.63 337.28,43.8 342.23,52.53 347.17,70.38 352.11,92.19 357.05,116.78 361.99,138 366.94,152.47 371.88,160.8 376.82,150.49 381.76,131.45 386.7,112.81 391.65,89.41 396.59,66.81 401.53,52.53 406.47,39.84 411.41,32.7 416.36,29.53 421.3,30.72 426.24,37.46 431.18,46.98 436.12,63.63 441.07,82.67 446.01,102.1 450.95,126.69 455.89,146.92 460.83,158.82 465.78,158.02 470.72,148.51 475.66,124.71 480.6,101.71 485.54,82.67 490.49,67.2 495.43,54.11 500.37,43.01 505.31,37.46" fill="none" stroke="#ff00ff" stroke-width="1.6" stroke-linejoin="round" stroke-linecap="round"/>
<path d="M325.6 37.46L328.84 35.66L328.84 39.26Z" fill="#ff00ff"/>
<path d="M330.54 40.63L333.78 38.83L333.78 42.43Z" fill="#ff00ff"/>
<path d="M335.48 43.8L338.72 42L338.72 45.6Z" fill="#ff00ff"/>
<path d="M340.43 52.53L343.67 50.73L343.67 54.33Z" fill="#ff00ff"/>
<path d="M345.37 70.38L348.61 68.58L348.61 72.18Z" fill="#ff00ff"/>
<path d="M350.31 92.19L353.55 90.39L353.55 93.99Z" fill="#ff00ff"/>
<path d="M355.25 116.78L358.49 114.98L358.49 118.58Z" fill="#ff00ff"/>
<path d="M360.19 138L363.43 136.2L363.43 139.8Z" fill="#ff00ff"/>
<path d="M365.14 152.47L368.38 150.67L368.38 154.27Z" fill="#ff00ff"/>
<path d="M370.08 160.8L373.32 159L373.32 162.6Z" fill="#ff00ff"/>
<path d="M375.02 150.49L378.26 148.69L378.26 152.29Z" fill="#ff00ff"/>
<path d="M379.96 131.45L383.2 129.65L383.2 133.25Z" fill="#ff00ff"/>
<path d="M384.9 112.81L388.14 111.01L388.14 114.61Z" fill="#ff00ff"/>
<path d="M389.85 89.41L393.09 87.61L393.09 91.21Z" fill="#ff00ff"/>
<path d="M394.79 66.81L398.03 65.01L398.03 68.61Z" fill="#ff00ff"/>
<path d="M399.73 52.53L402.97 50.73L402.97 54.33Z" fill="#ff00ff"/>
<path d="M404.67 39.84L407.91 38.04L407.91 41.64Z" fill="#ff00ff"/>
<path d="M409.61 32.7L412.85 30.9L412.85 34.5Z" fill="#ff00ff"/>
<path d="M414.56 29.53L417.8 27.73L417.8 31.33Z" fill="#ff00ff"/>
<path d="M419.5 30.72L422.74 28.92L422.74 32.52Z" fill="#ff00ff"/>
<path d="M424.44 37.46L427.68 35.66L427.68 39.26Z" fill="#ff00ff"/>
<path d="M429.38 46.98L432.62 45.18L432.62 48.78Z" fill="#ff00ff"/>
<path d="M434.32 63.63L437.56 61.83L437.56 65.43Z" fill="#ff00ff"/>
<path d="M439.27 82.67L442.51 80.87L442.51 84.47Z" fill="#ff00ff"/>
<path d="M444.21 102.1L447.45 100.3L447.45 103.9Z" fill="#ff00ff"/>
<path d="M449.15 126.69L452.39 124.89L452.39 128.49Z" fill="#ff00ff"/>
<path d="M454.09 146.92L457.33 145.12L457.33 148.72Z" fill="#ff00ff"/>
<path d="M459.03 158.82L462.27 157.02L462.27 160.62Z" fill="#ff00ff"/>
<path d="M463.98 158.02L467.22 156.22L467.22 159.82Z" fill="#ff00ff"/>
<path d="M468.92 148.51L472.16 146.71L472.16 150.31Z" fill="#ff00ff"/>
<path d="M473.86 124.71L477.1 122.91L477.1 126.51Z" fill="#ff00ff"/>
<path d="M478.8 101.71L482.04 99.91L482.04 103.51Z" fill="#ff00ff"/>
<path d="M483.74 82.67L486.98 80.87L486.98 84.47Z" fill="#ff00ff"/>
<path d="M488.69 67.2L491.93 65.4L491.93 69Z" fill="#ff00ff"/>
<path d="M493.63 54.11L496.87 52.31L496.87 55.91Z" fill="#ff00ff"/>
<path d="M498.57 43.01L501.81 41.21L501.81 44.81Z" fill="#ff00ff"/>
<path d="M503.51 37.46L506.75 35.66L506.75 39.26Z" fill="#ff00ff"/>
<rect x="305.4" y="2.1" width="222.5" height="178.8" fill="none" stroke="#000" stroke-width="1.8" stroke-linejoin="round"/>
<line x1="327.4" y1="180.9" x2="327.4" y2="177.7" stroke="#000" stroke-width="1.2"/>
<line x1="371.88" y1="180.9" x2="371.88" y2="177.7" stroke="#000" stroke-width="1.2"/>
<line x1="416.36" y1="180.9" x2="416.36" y2="177.7" stroke="#000" stroke-width="1.2"/>
<line x1="460.83" y1="180.9" x2="460.83" y2="177.7" stroke="#000" stroke-width="1.2"/>
<line x1="505.31" y1="180.9" x2="505.31" y2="177.7" stroke="#000" stroke-width="1.2"/>
<line x1="349.64" y1="180.9" x2="349.64" y2="179.1" stroke="#000" stroke-width="1.1"/>
<line x1="394.12" y1="180.9" x2="394.12" y2="179.1" stroke="#000" stroke-width="1.1"/>
<line x1="438.59" y1="180.9" x2="438.59" y2="179.1" stroke="#000" stroke-width="1.1"/>
<line x1="483.07" y1="180.9" x2="483.07" y2="179.1" stroke="#000" stroke-width="1.1"/>
<line x1="305.4" y1="160.8" x2="308.6" y2="160.8" stroke="#000" stroke-width="1.2"/>
<line x1="305.4" y1="97.3" x2="308.6" y2="97.3" stroke="#000" stroke-width="1.2"/>
<line x1="305.4" y1="33.79" x2="308.6" y2="33.79" stroke="#000" stroke-width="1.2"/>
<line x1="305.4" y1="129.05" x2="307.2" y2="129.05" stroke="#000" stroke-width="1.1"/>
<line x1="305.4" y1="65.54" x2="307.2" y2="65.54" stroke="#000" stroke-width="1.1"/>
<text x="301.2" y="164.2" font-size="10" text-anchor="end" font-weight="bold" font-style="normal" >0.0</text>
<text x="301.2" y="100.7" font-size="10" text-anchor="end" font-weight="bold" font-style="normal" >1.6</text>
<text x="301.2" y="37.19" font-size="10" text-anchor="end" font-weight="bold" font-style="normal" >3.2</text>
<text x="327.4" y="192.9" font-size="10" text-anchor="middle" font-weight="bold" font-style="normal" >0</text>
<text x="371.88" y="192.9" font-size="10" text-anchor="middle" font-weight="bold" font-style="normal" >90</text>
<text x="416.36" y="192.9" font-size="10" text-anchor="middle" font-weight="bold" font-style="normal" >180</text>
<text x="460.83" y="192.9" font-size="10" text-anchor="middle" font-weight="bold" font-style="normal" >270</text>
<text x="505.31" y="192.9" font-size="10" text-anchor="middle" font-weight="bold" font-style="normal" >360</text>
<text x="416.36" y="203.7" font-size="10.3" font-weight="bold" text-anchor="middle"><tspan font-style="italic">β</tspan> (deg)</text>
<text transform="translate(280.6,91.1) rotate(-90)" x="0" y="0" font-size="11.2" font-weight="bold" text-anchor="middle">Δρ<tspan font-size="8.6" dy="3.2">xx</tspan><tspan dy="-3.2">/ρ</tspan><tspan font-size="8.6" dy="3.2">xx</tspan><tspan dy="-3.2">(10</tspan><tspan font-size="8.2" dy="-5.2">-3</tspan><tspan dy="5.2">)</tspan></text>
<text x="308.7" y="15.9" font-size="16.5" text-anchor="start" font-weight="bold" font-style="normal" >(b)</text>
<line x1="333.6" y1="10.8" x2="352.6" y2="10.8" stroke="#000000" stroke-width="1.3"/>
<circle cx="343.1" cy="10.8" r="1.35" fill="#000000"/>
<text x="354.5" y="13.8" font-size="8.8" text-anchor="start" font-weight="bold" font-style="normal" >1T</text>
<line x1="364" y1="10.8" x2="383" y2="10.8" stroke="#ff0000" stroke-width="1.3"/>
<circle cx="373.5" cy="10.8" r="1.35" fill="#ff0000"/>
<text x="384.9" y="13.8" font-size="8.8" text-anchor="start" font-weight="bold" font-style="normal" >2T</text>
<line x1="394.4" y1="10.8" x2="413.4" y2="10.8" stroke="#b0b0b0" stroke-width="1.3"/>
<path d="M403.9 9.3L405.4 12L402.4 12Z" fill="#b0b0b0"/>
<text x="415.3" y="13.8" font-size="8.8" text-anchor="start" font-weight="bold" font-style="normal" >4T</text>
<line x1="424.8" y1="10.8" x2="443.8" y2="10.8" stroke="#0000ff" stroke-width="1.3"/>
<path d="M434.3 12.3L435.8 9.6L432.8 9.6Z" fill="#0000ff"/>
<text x="445.7" y="13.8" font-size="8.8" text-anchor="start" font-weight="bold" font-style="normal" >6T</text>
<line x1="455.2" y1="10.8" x2="474.2" y2="10.8" stroke="#ff00ff" stroke-width="1.3"/>
<path d="M463.2 10.8L465.9 9.3L465.9 12.3Z" fill="#ff00ff"/>
<text x="476.1" y="13.8" font-size="8.8" text-anchor="start" font-weight="bold" font-style="normal" >9T</text>
<polyline points="59.95,378.64 64.87,378.35 69.79,376.63 74.71,376.05 79.63,376.63 84.56,377.49 89.48,378.06 94.4,377.77 99.32,378.06 104.24,379.5 109.16,378.92 114.08,378.92 119,378.06 123.92,376.34 128.84,375.76 133.76,376.63 138.69,378.06 143.61,377.49 148.53,376.05 153.45,375.76 158.37,376.34 163.29,377.77 168.21,377.2 173.13,378.06 178.05,377.77 182.97,377.2 187.9,377.2 192.82,376.63 197.74,376.34 202.66,376.34 207.58,376.05 212.5,377.2 217.42,377.2 222.34,377.77 227.26,376.34 232.19,376.34 237.11,375.48" fill="none" stroke="#000000" stroke-width="1.6" stroke-linejoin="round" stroke-linecap="round"/>
<circle cx="59.95" cy="378.64" r="1.62" fill="#000000"/>
<circle cx="64.87" cy="378.35" r="1.62" fill="#000000"/>
<circle cx="69.79" cy="376.63" r="1.62" fill="#000000"/>
<circle cx="74.71" cy="376.05" r="1.62" fill="#000000"/>
<circle cx="79.63" cy="376.63" r="1.62" fill="#000000"/>
<circle cx="84.56" cy="377.49" r="1.62" fill="#000000"/>
<circle cx="89.48" cy="378.06" r="1.62" fill="#000000"/>
<circle cx="94.4" cy="377.77" r="1.62" fill="#000000"/>
<circle cx="99.32" cy="378.06" r="1.62" fill="#000000"/>
<circle cx="104.24" cy="379.5" r="1.62" fill="#000000"/>
<circle cx="109.16" cy="378.92" r="1.62" fill="#000000"/>
<circle cx="114.08" cy="378.92" r="1.62" fill="#000000"/>
<circle cx="119" cy="378.06" r="1.62" fill="#000000"/>
<circle cx="123.92" cy="376.34" r="1.62" fill="#000000"/>
<circle cx="128.84" cy="375.76" r="1.62" fill="#000000"/>
<circle cx="133.76" cy="376.63" r="1.62" fill="#000000"/>
<circle cx="138.69" cy="378.06" r="1.62" fill="#000000"/>
<circle cx="143.61" cy="377.49" r="1.62" fill="#000000"/>
<circle cx="148.53" cy="376.05" r="1.62" fill="#000000"/>
<circle cx="153.45" cy="375.76" r="1.62" fill="#000000"/>
<circle cx="158.37" cy="376.34" r="1.62" fill="#000000"/>
<circle cx="163.29" cy="377.77" r="1.62" fill="#000000"/>
<circle cx="168.21" cy="377.2" r="1.62" fill="#000000"/>
<circle cx="173.13" cy="378.06" r="1.62" fill="#000000"/>
<circle cx="178.05" cy="377.77" r="1.62" fill="#000000"/>
<circle cx="182.97" cy="377.2" r="1.62" fill="#000000"/>
<circle cx="187.9" cy="377.2" r="1.62" fill="#000000"/>
<circle cx="192.82" cy="376.63" r="1.62" fill="#000000"/>
<circle cx="197.74" cy="376.34" r="1.62" fill="#000000"/>
<circle cx="202.66" cy="376.34" r="1.62" fill="#000000"/>
<circle cx="207.58" cy="376.05" r="1.62" fill="#000000"/>
<circle cx="212.5" cy="377.2" r="1.62" fill="#000000"/>
<circle cx="217.42" cy="377.2" r="1.62" fill="#000000"/>
<circle cx="222.34" cy="377.77" r="1.62" fill="#000000"/>
<circle cx="227.26" cy="376.34" r="1.62" fill="#000000"/>
<circle cx="232.19" cy="376.34" r="1.62" fill="#000000"/>
<circle cx="237.11" cy="375.48" r="1.62" fill="#000000"/>
<polyline points="59.95,368.01 64.87,369.44 69.79,369.73 74.71,370.59 79.63,372.03 84.56,373.75 89.48,375.76 94.4,377.77 99.32,378.64 104.24,380.07 109.16,378.64 114.08,377.77 119,376.05 123.92,372.6 128.84,371.45 133.76,370.88 138.69,370.02 143.61,369.44 148.53,368.58 153.45,369.73 158.37,369.73 163.29,370.59 168.21,372.6 173.13,375.19 178.05,376.63 182.97,378.64 187.9,380.07 192.82,380.65 197.74,379.5 202.66,377.77 207.58,375.76 212.5,373.75 217.42,372.32 222.34,371.45 227.26,370.59 232.19,370.59 237.11,369.16" fill="none" stroke="#ff0000" stroke-width="1.6" stroke-linejoin="round" stroke-linecap="round"/>
<circle cx="59.95" cy="368.01" r="1.62" fill="#ff0000"/>
<circle cx="64.87" cy="369.44" r="1.62" fill="#ff0000"/>
<circle cx="69.79" cy="369.73" r="1.62" fill="#ff0000"/>
<circle cx="74.71" cy="370.59" r="1.62" fill="#ff0000"/>
<circle cx="79.63" cy="372.03" r="1.62" fill="#ff0000"/>
<circle cx="84.56" cy="373.75" r="1.62" fill="#ff0000"/>
<circle cx="89.48" cy="375.76" r="1.62" fill="#ff0000"/>
<circle cx="94.4" cy="377.77" r="1.62" fill="#ff0000"/>
<circle cx="99.32" cy="378.64" r="1.62" fill="#ff0000"/>
<circle cx="104.24" cy="380.07" r="1.62" fill="#ff0000"/>
<circle cx="109.16" cy="378.64" r="1.62" fill="#ff0000"/>
<circle cx="114.08" cy="377.77" r="1.62" fill="#ff0000"/>
<circle cx="119" cy="376.05" r="1.62" fill="#ff0000"/>
<circle cx="123.92" cy="372.6" r="1.62" fill="#ff0000"/>
<circle cx="128.84" cy="371.45" r="1.62" fill="#ff0000"/>
<circle cx="133.76" cy="370.88" r="1.62" fill="#ff0000"/>
<circle cx="138.69" cy="370.02" r="1.62" fill="#ff0000"/>
<circle cx="143.61" cy="369.44" r="1.62" fill="#ff0000"/>
<circle cx="148.53" cy="368.58" r="1.62" fill="#ff0000"/>
<circle cx="153.45" cy="369.73" r="1.62" fill="#ff0000"/>
<circle cx="158.37" cy="369.73" r="1.62" fill="#ff0000"/>
<circle cx="163.29" cy="370.59" r="1.62" fill="#ff0000"/>
<circle cx="168.21" cy="372.6" r="1.62" fill="#ff0000"/>
<circle cx="173.13" cy="375.19" r="1.62" fill="#ff0000"/>
<circle cx="178.05" cy="376.63" r="1.62" fill="#ff0000"/>
<circle cx="182.97" cy="378.64" r="1.62" fill="#ff0000"/>
<circle cx="187.9" cy="380.07" r="1.62" fill="#ff0000"/>
<circle cx="192.82" cy="380.65" r="1.62" fill="#ff0000"/>
<circle cx="197.74" cy="379.5" r="1.62" fill="#ff0000"/>
<circle cx="202.66" cy="377.77" r="1.62" fill="#ff0000"/>
<circle cx="207.58" cy="375.76" r="1.62" fill="#ff0000"/>
<circle cx="212.5" cy="373.75" r="1.62" fill="#ff0000"/>
<circle cx="217.42" cy="372.32" r="1.62" fill="#ff0000"/>
<circle cx="222.34" cy="371.45" r="1.62" fill="#ff0000"/>
<circle cx="227.26" cy="370.59" r="1.62" fill="#ff0000"/>
<circle cx="232.19" cy="370.59" r="1.62" fill="#ff0000"/>
<circle cx="237.11" cy="369.16" r="1.62" fill="#ff0000"/>
<polyline points="59.95,343.87 64.87,346.17 69.79,349.04 74.71,352.2 79.63,358.24 84.56,363.98 89.48,369.73 94.4,374.9 99.32,377.2 104.24,377.2 109.16,374.33 114.08,366.86 119,359.39 123.92,352.49 128.84,348.47 133.76,346.17 138.69,343.3 143.61,342.15 148.53,339.85 153.45,340.71 158.37,342.72 163.29,348.76 168.21,354.22 173.13,359.67 178.05,365.71 182.97,371.74 187.9,375.76 192.82,377.77 197.74,377.2 202.66,375.76 207.58,367.14 212.5,361.4 217.42,357.66 222.34,352.2 227.26,350.77 232.19,347.03 237.11,344.16" fill="none" stroke="#b0b0b0" stroke-width="1.6" stroke-linejoin="round" stroke-linecap="round"/>
<path d="M59.95 342.07L61.75 345.31L58.15 345.31Z" fill="#b0b0b0"/>
<path d="M64.87 344.37L66.67 347.61L63.07 347.61Z" fill="#b0b0b0"/>
<path d="M69.79 347.24L71.59 350.48L67.99 350.48Z" fill="#b0b0b0"/>
<path d="M74.71 350.4L76.51 353.64L72.91 353.64Z" fill="#b0b0b0"/>
<path d="M79.63 356.44L81.43 359.68L77.83 359.68Z" fill="#b0b0b0"/>
<path d="M84.56 362.18L86.36 365.42L82.76 365.42Z" fill="#b0b0b0"/>
<path d="M89.48 367.93L91.28 371.17L87.68 371.17Z" fill="#b0b0b0"/>
<path d="M94.4 373.1L96.2 376.34L92.6 376.34Z" fill="#b0b0b0"/>
<path d="M99.32 375.4L101.12 378.64L97.52 378.64Z" fill="#b0b0b0"/>
<path d="M104.24 375.4L106.04 378.64L102.44 378.64Z" fill="#b0b0b0"/>
<path d="M109.16 372.53L110.96 375.77L107.36 375.77Z" fill="#b0b0b0"/>
<path d="M114.08 365.06L115.88 368.3L112.28 368.3Z" fill="#b0b0b0"/>
<path d="M119 357.59L120.8 360.83L117.2 360.83Z" fill="#b0b0b0"/>
<path d="M123.92 350.69L125.72 353.93L122.12 353.93Z" fill="#b0b0b0"/>
<path d="M128.84 346.67L130.64 349.91L127.04 349.91Z" fill="#b0b0b0"/>
<path d="M133.76 344.37L135.56 347.61L131.96 347.61Z" fill="#b0b0b0"/>
<path d="M138.69 341.5L140.49 344.74L136.89 344.74Z" fill="#b0b0b0"/>
<path d="M143.61 340.35L145.41 343.59L141.81 343.59Z" fill="#b0b0b0"/>
<path d="M148.53 338.05L150.33 341.29L146.73 341.29Z" fill="#b0b0b0"/>
<path d="M153.45 338.91L155.25 342.15L151.65 342.15Z" fill="#b0b0b0"/>
<path d="M158.37 340.92L160.17 344.16L156.57 344.16Z" fill="#b0b0b0"/>
<path d="M163.29 346.96L165.09 350.2L161.49 350.2Z" fill="#b0b0b0"/>
<path d="M168.21 352.42L170.01 355.66L166.41 355.66Z" fill="#b0b0b0"/>
<path d="M173.13 357.87L174.93 361.11L171.33 361.11Z" fill="#b0b0b0"/>
<path d="M178.05 363.91L179.85 367.15L176.25 367.15Z" fill="#b0b0b0"/>
<path d="M182.97 369.94L184.78 373.18L181.17 373.18Z" fill="#b0b0b0"/>
<path d="M187.9 373.96L189.7 377.2L186.1 377.2Z" fill="#b0b0b0"/>
<path d="M192.82 375.97L194.62 379.21L191.02 379.21Z" fill="#b0b0b0"/>
<path d="M197.74 375.4L199.54 378.64L195.94 378.64Z" fill="#b0b0b0"/>
<path d="M202.66 373.96L204.46 377.2L200.86 377.2Z" fill="#b0b0b0"/>
<path d="M207.58 365.34L209.38 368.58L205.78 368.58Z" fill="#b0b0b0"/>
<path d="M212.5 359.6L214.3 362.84L210.7 362.84Z" fill="#b0b0b0"/>
<path d="M217.42 355.86L219.22 359.1L215.62 359.1Z" fill="#b0b0b0"/>
<path d="M222.34 350.4L224.14 353.64L220.54 353.64Z" fill="#b0b0b0"/>
<path d="M227.26 348.97L229.06 352.21L225.46 352.21Z" fill="#b0b0b0"/>
<path d="M232.19 345.23L233.99 348.47L230.38 348.47Z" fill="#b0b0b0"/>
<path d="M237.11 342.36L238.91 345.6L235.31 345.6Z" fill="#b0b0b0"/>
<polyline points="59.95,313.13 64.87,316.58 69.79,318.59 74.71,324.05 79.63,333.53 84.56,347.03 89.48,359.39 94.4,369.16 99.32,374.9 104.24,377.2 109.16,371.45 114.08,361.4 119,346.75 123.92,336.69 128.84,324.34 133.76,314.57 138.69,309.11 143.61,307.67 148.53,307.67 153.45,308.54 158.37,313.99 163.29,322.61 168.21,330.66 173.13,343.59 178.05,356.51 182.97,365.71 187.9,374.61 192.82,380.07 197.74,380.07 202.66,373.18 207.58,362.83 212.5,352.49 217.42,344.16 222.34,332.96 227.26,325.2 232.19,318.3 237.11,312.27" fill="none" stroke="#0000ff" stroke-width="1.6" stroke-linejoin="round" stroke-linecap="round"/>
<path d="M59.95 314.93L61.75 311.69L58.15 311.69Z" fill="#0000ff"/>
<path d="M64.87 318.38L66.67 315.14L63.07 315.14Z" fill="#0000ff"/>
<path d="M69.79 320.39L71.59 317.15L67.99 317.15Z" fill="#0000ff"/>
<path d="M74.71 325.85L76.51 322.61L72.91 322.61Z" fill="#0000ff"/>
<path d="M79.63 335.33L81.43 332.09L77.83 332.09Z" fill="#0000ff"/>
<path d="M84.56 348.83L86.36 345.59L82.76 345.59Z" fill="#0000ff"/>
<path d="M89.48 361.19L91.28 357.95L87.68 357.95Z" fill="#0000ff"/>
<path d="M94.4 370.96L96.2 367.72L92.6 367.72Z" fill="#0000ff"/>
<path d="M99.32 376.7L101.12 373.46L97.52 373.46Z" fill="#0000ff"/>
<path d="M104.24 379L106.04 375.76L102.44 375.76Z" fill="#0000ff"/>
<path d="M109.16 373.25L110.96 370.01L107.36 370.01Z" fill="#0000ff"/>
<path d="M114.08 363.2L115.88 359.96L112.28 359.96Z" fill="#0000ff"/>
<path d="M119 348.55L120.8 345.31L117.2 345.31Z" fill="#0000ff"/>
<path d="M123.92 338.49L125.72 335.25L122.12 335.25Z" fill="#0000ff"/>
<path d="M128.84 326.14L130.64 322.9L127.04 322.9Z" fill="#0000ff"/>
<path d="M133.76 316.37L135.56 313.13L131.96 313.13Z" fill="#0000ff"/>
<path d="M138.69 310.91L140.49 307.67L136.89 307.67Z" fill="#0000ff"/>
<path d="M143.61 309.47L145.41 306.23L141.81 306.23Z" fill="#0000ff"/>
<path d="M148.53 309.47L150.33 306.23L146.73 306.23Z" fill="#0000ff"/>
<path d="M153.45 310.34L155.25 307.1L151.65 307.1Z" fill="#0000ff"/>
<path d="M158.37 315.79L160.17 312.55L156.57 312.55Z" fill="#0000ff"/>
<path d="M163.29 324.41L165.09 321.17L161.49 321.17Z" fill="#0000ff"/>
<path d="M168.21 332.46L170.01 329.22L166.41 329.22Z" fill="#0000ff"/>
<path d="M173.13 345.39L174.93 342.15L171.33 342.15Z" fill="#0000ff"/>
<path d="M178.05 358.31L179.85 355.07L176.25 355.07Z" fill="#0000ff"/>
<path d="M182.97 367.51L184.78 364.27L181.17 364.27Z" fill="#0000ff"/>
<path d="M187.9 376.41L189.7 373.17L186.1 373.17Z" fill="#0000ff"/>
<path d="M192.82 381.87L194.62 378.63L191.02 378.63Z" fill="#0000ff"/>
<path d="M197.74 381.87L199.54 378.63L195.94 378.63Z" fill="#0000ff"/>
<path d="M202.66 374.98L204.46 371.74L200.86 371.74Z" fill="#0000ff"/>
<path d="M207.58 364.63L209.38 361.39L205.78 361.39Z" fill="#0000ff"/>
<path d="M212.5 354.29L214.3 351.05L210.7 351.05Z" fill="#0000ff"/>
<path d="M217.42 345.96L219.22 342.72L215.62 342.72Z" fill="#0000ff"/>
<path d="M222.34 334.76L224.14 331.52L220.54 331.52Z" fill="#0000ff"/>
<path d="M227.26 327L229.06 323.76L225.46 323.76Z" fill="#0000ff"/>
<path d="M232.19 320.1L233.99 316.86L230.38 316.86Z" fill="#0000ff"/>
<path d="M237.11 314.07L238.91 310.83L235.31 310.83Z" fill="#0000ff"/>
<polyline points="59.95,236.71 64.87,244.47 69.79,257.4 74.71,272.91 79.63,292.73 84.56,313.42 89.48,337.84 94.4,357.66 99.32,372.03 104.24,377.2 109.16,369.44 114.08,354.5 119,338.13 123.92,309.68 128.84,288.71 133.76,269.75 138.69,249.93 143.61,239.3 148.53,234.41 153.45,234.99 158.37,240.45 163.29,252.22 168.21,269.18 173.13,287.56 178.05,313.42 182.97,339.28 187.9,356.8 192.82,371.74 197.74,375.19 202.66,368.58 207.58,356.8 212.5,334.97 217.42,305.09 222.34,276.64 227.26,259.41 232.19,245.04 237.11,240.73" fill="none" stroke="#ff00ff" stroke-width="1.6" stroke-linejoin="round" stroke-linecap="round"/>
<path d="M58.15 236.71L61.39 234.91L61.39 238.51Z" fill="#ff00ff"/>
<path d="M63.07 244.47L66.31 242.67L66.31 246.27Z" fill="#ff00ff"/>
<path d="M67.99 257.4L71.23 255.6L71.23 259.2Z" fill="#ff00ff"/>
<path d="M72.91 272.91L76.15 271.11L76.15 274.71Z" fill="#ff00ff"/>
<path d="M77.83 292.73L81.07 290.93L81.07 294.53Z" fill="#ff00ff"/>
<path d="M82.76 313.42L86 311.62L86 315.22Z" fill="#ff00ff"/>
<path d="M87.68 337.84L90.92 336.04L90.92 339.64Z" fill="#ff00ff"/>
<path d="M92.6 357.66L95.84 355.86L95.84 359.46Z" fill="#ff00ff"/>
<path d="M97.52 372.03L100.76 370.23L100.76 373.83Z" fill="#ff00ff"/>
<path d="M102.44 377.2L105.68 375.4L105.68 379Z" fill="#ff00ff"/>
<path d="M107.36 369.44L110.6 367.64L110.6 371.24Z" fill="#ff00ff"/>
<path d="M112.28 354.5L115.52 352.7L115.52 356.3Z" fill="#ff00ff"/>
<path d="M117.2 338.13L120.44 336.33L120.44 339.93Z" fill="#ff00ff"/>
<path d="M122.12 309.68L125.36 307.88L125.36 311.48Z" fill="#ff00ff"/>
<path d="M127.04 288.71L130.28 286.91L130.28 290.51Z" fill="#ff00ff"/>
<path d="M131.96 269.75L135.2 267.95L135.2 271.55Z" fill="#ff00ff"/>
<path d="M136.89 249.93L140.13 248.13L140.13 251.73Z" fill="#ff00ff"/>
<path d="M141.81 239.3L145.05 237.5L145.05 241.1Z" fill="#ff00ff"/>
<path d="M146.73 234.41L149.97 232.61L149.97 236.21Z" fill="#ff00ff"/>
<path d="M151.65 234.99L154.89 233.19L154.89 236.79Z" fill="#ff00ff"/>
<path d="M156.57 240.45L159.81 238.65L159.81 242.25Z" fill="#ff00ff"/>
<path d="M161.49 252.22L164.73 250.42L164.73 254.02Z" fill="#ff00ff"/>
<path d="M166.41 269.18L169.65 267.38L169.65 270.98Z" fill="#ff00ff"/>
<path d="M171.33 287.56L174.57 285.76L174.57 289.36Z" fill="#ff00ff"/>
<path d="M176.25 313.42L179.49 311.62L179.49 315.22Z" fill="#ff00ff"/>
<path d="M181.17 339.28L184.41 337.48L184.41 341.08Z" fill="#ff00ff"/>
<path d="M186.1 356.8L189.34 355L189.34 358.6Z" fill="#ff00ff"/>
<path d="M191.02 371.74L194.26 369.94L194.26 373.54Z" fill="#ff00ff"/>
<path d="M195.94 375.19L199.18 373.39L199.18 376.99Z" fill="#ff00ff"/>
<path d="M200.86 368.58L204.1 366.78L204.1 370.38Z" fill="#ff00ff"/>
<path d="M205.78 356.8L209.02 355L209.02 358.6Z" fill="#ff00ff"/>
<path d="M210.7 334.97L213.94 333.17L213.94 336.77Z" fill="#ff00ff"/>
<path d="M215.62 305.09L218.86 303.29L218.86 306.89Z" fill="#ff00ff"/>
<path d="M220.54 276.64L223.78 274.84L223.78 278.44Z" fill="#ff00ff"/>
<path d="M225.46 259.41L228.7 257.61L228.7 261.21Z" fill="#ff00ff"/>
<path d="M230.38 245.04L233.62 243.24L233.62 246.84Z" fill="#ff00ff"/>
<path d="M235.31 240.73L238.55 238.93L238.55 242.53Z" fill="#ff00ff"/>
<rect x="38.1" y="217.4" width="221.1" height="182.5" fill="none" stroke="#000" stroke-width="1.8" stroke-linejoin="round"/>
<line x1="59.95" y1="399.9" x2="59.95" y2="396.7" stroke="#000" stroke-width="1.2"/>
<line x1="104.24" y1="399.9" x2="104.24" y2="396.7" stroke="#000" stroke-width="1.2"/>
<line x1="148.53" y1="399.9" x2="148.53" y2="396.7" stroke="#000" stroke-width="1.2"/>
<line x1="192.82" y1="399.9" x2="192.82" y2="396.7" stroke="#000" stroke-width="1.2"/>
<line x1="237.11" y1="399.9" x2="237.11" y2="396.7" stroke="#000" stroke-width="1.2"/>
<line x1="82.09" y1="399.9" x2="82.09" y2="398.1" stroke="#000" stroke-width="1.1"/>
<line x1="126.38" y1="399.9" x2="126.38" y2="398.1" stroke="#000" stroke-width="1.1"/>
<line x1="170.67" y1="399.9" x2="170.67" y2="398.1" stroke="#000" stroke-width="1.1"/>
<line x1="214.96" y1="399.9" x2="214.96" y2="398.1" stroke="#000" stroke-width="1.1"/>
<line x1="38.1" y1="377.4" x2="41.3" y2="377.4" stroke="#000" stroke-width="1.2"/>
<line x1="38.1" y1="331.64" x2="41.3" y2="331.64" stroke="#000" stroke-width="1.2"/>
<line x1="38.1" y1="285.88" x2="41.3" y2="285.88" stroke="#000" stroke-width="1.2"/>
<line x1="38.1" y1="240.12" x2="41.3" y2="240.12" stroke="#000" stroke-width="1.2"/>
<line x1="38.1" y1="354.52" x2="39.9" y2="354.52" stroke="#000" stroke-width="1.1"/>
<line x1="38.1" y1="308.76" x2="39.9" y2="308.76" stroke="#000" stroke-width="1.1"/>
<line x1="38.1" y1="263" x2="39.9" y2="263" stroke="#000" stroke-width="1.1"/>
<text x="33.9" y="380.8" font-size="10" text-anchor="end" font-weight="bold" font-style="normal" >0.0</text>
<text x="33.9" y="335.04" font-size="10" text-anchor="end" font-weight="bold" font-style="normal" >1.6</text>
<text x="33.9" y="289.28" font-size="10" text-anchor="end" font-weight="bold" font-style="normal" >3.2</text>
<text x="33.9" y="243.52" font-size="10" text-anchor="end" font-weight="bold" font-style="normal" >4.8</text>
<text x="59.95" y="411.9" font-size="10" text-anchor="middle" font-weight="bold" font-style="normal" >0</text>
<text x="104.24" y="411.9" font-size="10" text-anchor="middle" font-weight="bold" font-style="normal" >90</text>
<text x="148.53" y="411.9" font-size="10" text-anchor="middle" font-weight="bold" font-style="normal" >180</text>
<text x="192.82" y="411.9" font-size="10" text-anchor="middle" font-weight="bold" font-style="normal" >270</text>
<text x="237.11" y="411.9" font-size="10" text-anchor="middle" font-weight="bold" font-style="normal" >360</text>
<text x="148.53" y="421.2" font-size="10.3" font-weight="bold" text-anchor="middle"><tspan font-style="italic">γ</tspan> (deg)</text>
<text transform="translate(13.8,308) rotate(-90)" x="0" y="0" font-size="11.2" font-weight="bold" text-anchor="middle">Δρ<tspan font-size="8.6" dy="3.2">xx</tspan><tspan dy="-3.2">/ρ</tspan><tspan font-size="8.6" dy="3.2">xx</tspan><tspan dy="-3.2">(10</tspan><tspan font-size="8.2" dy="-5.2">-3</tspan><tspan dy="5.2">)</tspan></text>
<text x="44.5" y="233.6" font-size="16.5" text-anchor="start" font-weight="bold" font-style="normal" >(c)</text>
<line x1="67.6" y1="226" x2="86.6" y2="226" stroke="#000000" stroke-width="1.3"/>
<circle cx="77.1" cy="226" r="1.35" fill="#000000"/>
<text x="88.5" y="229" font-size="8.8" text-anchor="start" font-weight="bold" font-style="normal" >1T</text>
<line x1="98" y1="226" x2="117" y2="226" stroke="#ff0000" stroke-width="1.3"/>
<circle cx="107.5" cy="226" r="1.35" fill="#ff0000"/>
<text x="118.9" y="229" font-size="8.8" text-anchor="start" font-weight="bold" font-style="normal" >2T</text>
<line x1="128.4" y1="226" x2="147.4" y2="226" stroke="#b0b0b0" stroke-width="1.3"/>
<path d="M137.9 224.5L139.4 227.2L136.4 227.2Z" fill="#b0b0b0"/>
<text x="149.3" y="229" font-size="8.8" text-anchor="start" font-weight="bold" font-style="normal" >4T</text>
<line x1="158.8" y1="226" x2="177.8" y2="226" stroke="#0000ff" stroke-width="1.3"/>
<path d="M168.3 227.5L169.8 224.8L166.8 224.8Z" fill="#0000ff"/>
<text x="179.7" y="229" font-size="8.8" text-anchor="start" font-weight="bold" font-style="normal" >6T</text>
<line x1="189.2" y1="226" x2="208.2" y2="226" stroke="#ff00ff" stroke-width="1.3"/>
<path d="M197.2 226L199.9 224.5L199.9 227.5Z" fill="#ff00ff"/>
<text x="210.1" y="229" font-size="8.8" text-anchor="start" font-weight="bold" font-style="normal" >9T</text>
<polyline points="326.15,371.8 329.13,371.54 332.11,371.25 335.09,370.95 338.07,370.64 341.05,370.31 344.03,369.95 347.01,369.59 349.99,369.2 352.97,368.8 355.95,368.38 358.93,367.94 361.91,367.49 364.89,367.02 367.87,366.53 370.85,366.02 373.83,365.5 376.81,364.96 379.79,364.4 382.77,363.83 385.75,363.24 388.73,362.63 391.71,362 394.69,361.36 397.67,360.69 400.65,360.02 403.63,359.32 406.61,358.61 409.59,357.88 412.57,357.13 415.55,356.37 418.53,355.59 421.51,354.79 424.49,353.97 427.47,353.14 430.45,352.29 433.43,351.42 436.41,350.53 439.39,349.63 442.37,348.71 445.35,347.78 448.33,346.82 451.31,345.85 454.29,344.86 457.27,343.86 460.25,342.83 463.23,341.79 466.21,340.74 469.19,339.66 472.17,338.57 475.15,337.46 478.13,336.34 481.11,335.19 484.09,334.03 487.07,332.85 490.05,331.66 493.03,330.45 496.01,329.22 498.99,327.97 501.97,326.71 504.95,325.42" fill="none" stroke="#000" stroke-width="1.6" stroke-linejoin="round" stroke-linecap="round"/>
<polyline points="326.15,371.8 329.13,370.83 332.11,369.85 335.09,368.85 338.07,367.82 341.05,366.78 344.03,365.72 347.01,364.64 349.99,363.54 352.97,362.42 355.95,361.28 358.93,360.12 361.91,358.95 364.89,357.75 367.87,356.53 370.85,355.3 373.83,354.05 376.81,352.77 379.79,351.48 382.77,350.17 385.75,348.84 388.73,347.48 391.71,346.11 394.69,344.73 397.67,343.32 400.65,341.89 403.63,340.44 406.61,338.98 409.59,337.49 412.57,335.98 415.55,334.46 418.53,332.92 421.51,331.35 424.49,329.77 427.47,328.17 430.45,326.55 433.43,324.91 436.41,323.25 439.39,321.57 442.37,319.87 445.35,318.16 448.33,316.42 451.31,314.67 454.29,312.89 457.27,311.1 460.25,309.28 463.23,307.45 466.21,305.6 469.19,303.73 472.17,301.84 475.15,299.93 478.13,298 481.11,296.05 484.09,294.08 487.07,292.09 490.05,290.09 493.03,288.06 496.01,286.02 498.99,283.95 501.97,281.87 504.95,279.77" fill="none" stroke="#000" stroke-width="1.6" stroke-linejoin="round" stroke-linecap="round"/>
<polyline points="326.15,371.8 329.13,370.67 332.11,369.49 335.09,368.28 338.07,367.02 341.05,365.72 344.03,364.38 347.01,363 349.99,361.58 352.97,360.11 355.95,358.61 358.93,357.06 361.91,355.48 364.89,353.85 367.87,352.18 370.85,350.47 373.83,348.71 376.81,346.92 379.79,345.09 382.77,343.21 385.75,341.29 388.73,339.33 391.71,337.33 394.69,335.29 397.67,333.21 400.65,331.09 403.63,328.92 406.61,326.72 409.59,324.47 412.57,322.18 415.55,319.85 418.53,317.48 421.51,315.06 424.49,312.61 427.47,310.12 430.45,307.58 433.43,305 436.41,302.38 439.39,299.72 442.37,297.02 445.35,294.28 448.33,291.5 451.31,288.67 454.29,285.8 457.27,282.9 460.25,279.95 463.23,276.96 466.21,273.92 469.19,270.85 472.17,267.74 475.15,264.58 478.13,261.39 481.11,258.15 484.09,254.87 487.07,251.55 490.05,248.19 493.03,244.78 496.01,241.34 498.99,237.86 501.97,234.33 504.95,230.76" fill="none" stroke="#000" stroke-width="1.6" stroke-linejoin="round" stroke-linecap="round"/>
<rect x="324.4" y="368.64" width="3.51" height="3.51" fill="#111"/>
<rect x="346.75" y="367.24" width="3.51" height="3.51" fill="#111"/>
<rect x="391.45" y="360.49" width="3.51" height="3.51" fill="#111"/>
<rect x="436.15" y="347.56" width="3.51" height="3.51" fill="#111"/>
<rect x="503.2" y="323.4" width="3.51" height="3.51" fill="#111"/>
<circle cx="326.15" cy="372.08" r="1.96" fill="#ff1a1a"/>
<circle cx="348.5" cy="360.56" r="1.96" fill="#ff1a1a"/>
<circle cx="393.2" cy="345.67" r="1.96" fill="#ff1a1a"/>
<circle cx="437.9" cy="321.5" r="1.96" fill="#ff1a1a"/>
<circle cx="504.95" cy="279.63" r="1.96" fill="#ff1a1a"/>
<path d="M326.15 366.44L328.7 371.03L323.6 371.03Z" fill="#1a5cff"/>
<path d="M348.5 359.7L351.05 364.29L345.95 364.29Z" fill="#1a5cff"/>
<path d="M393.2 332.16L395.75 336.75L390.65 336.75Z" fill="#1a5cff"/>
<path d="M437.9 299.56L440.45 304.15L435.35 304.15Z" fill="#1a5cff"/>
<path d="M504.95 228.19L507.5 232.78L502.4 232.78Z" fill="#1a5cff"/>
<rect x="303.8" y="214.6" width="223.2" height="179.2" fill="none" stroke="#000" stroke-width="1.8" stroke-linejoin="round"/>
<line x1="303.8" y1="393.8" x2="303.8" y2="390.6" stroke="#000" stroke-width="1.2"/>
<line x1="348.5" y1="393.8" x2="348.5" y2="390.6" stroke="#000" stroke-width="1.2"/>
<line x1="393.2" y1="393.8" x2="393.2" y2="390.6" stroke="#000" stroke-width="1.2"/>
<line x1="437.9" y1="393.8" x2="437.9" y2="390.6" stroke="#000" stroke-width="1.2"/>
<line x1="482.6" y1="393.8" x2="482.6" y2="390.6" stroke="#000" stroke-width="1.2"/>
<line x1="527.3" y1="393.8" x2="527.3" y2="390.6" stroke="#000" stroke-width="1.2"/>
<line x1="326.15" y1="393.8" x2="326.15" y2="392" stroke="#000" stroke-width="1.1"/>
<line x1="370.85" y1="393.8" x2="370.85" y2="392" stroke="#000" stroke-width="1.1"/>
<line x1="415.55" y1="393.8" x2="415.55" y2="392" stroke="#000" stroke-width="1.1"/>
<line x1="460.25" y1="393.8" x2="460.25" y2="392" stroke="#000" stroke-width="1.1"/>
<line x1="504.95" y1="393.8" x2="504.95" y2="392" stroke="#000" stroke-width="1.1"/>
<line x1="303.8" y1="371.6" x2="307" y2="371.6" stroke="#000" stroke-width="1.2"/>
<line x1="303.8" y1="304.23" x2="307" y2="304.23" stroke="#000" stroke-width="1.2"/>
<line x1="303.8" y1="236.86" x2="307" y2="236.86" stroke="#000" stroke-width="1.2"/>
<line x1="303.8" y1="337.92" x2="305.6" y2="337.92" stroke="#000" stroke-width="1.1"/>
<line x1="303.8" y1="270.55" x2="305.6" y2="270.55" stroke="#000" stroke-width="1.1"/>
<text x="299.6" y="375" font-size="10" text-anchor="end" font-weight="bold" font-style="normal" >0.0</text>
<text x="299.6" y="307.63" font-size="10" text-anchor="end" font-weight="bold" font-style="normal" >2.4</text>
<text x="299.6" y="240.26" font-size="10" text-anchor="end" font-weight="bold" font-style="normal" >4.8</text>
<text x="303.8" y="406" font-size="10" text-anchor="middle" font-weight="bold" font-style="normal" >0</text>
<text x="348.5" y="406" font-size="10" text-anchor="middle" font-weight="bold" font-style="normal" >2</text>
<text x="393.2" y="406" font-size="10" text-anchor="middle" font-weight="bold" font-style="normal" >4</text>
<text x="437.9" y="406" font-size="10" text-anchor="middle" font-weight="bold" font-style="normal" >6</text>
<text x="482.6" y="406" font-size="10" text-anchor="middle" font-weight="bold" font-style="normal" >8</text>
<text x="527.3" y="406" font-size="10" text-anchor="middle" font-weight="bold" font-style="normal" >10</text>
<text x="404.5" y="422.7" font-size="10.5"><tspan font-style="italic" font-weight="bold">H</tspan>(T)</text>
<text transform="translate(280.2,303.9) rotate(-90)" x="0" y="0" font-size="11.2" font-weight="bold" text-anchor="middle">|Δρ<tspan font-size="8.6" dy="3.2">xx</tspan><tspan dy="-3.2">/ρ</tspan><tspan font-size="8.6" dy="3.2">xx</tspan><tspan dy="-3.2">|(10</tspan><tspan font-size="8.2" dy="-5.2">-3</tspan><tspan dy="5.2">)</tspan></text>
<text x="308" y="227.8" font-size="16.5" text-anchor="start" font-weight="bold" font-style="normal" >(d)</text>
<rect x="336.44" y="220.84" width="3.51" height="3.51" fill="#111"/>
<text x="350.8" y="225.4" font-size="9" text-anchor="middle" font-weight="normal" font-style="italic" >α</text>
<circle cx="362.2" cy="222.6" r="2.03" fill="#ff1a1a"/>
<text x="374.7" y="225.4" font-size="9" text-anchor="middle" font-weight="normal" font-style="normal" >β</text>
<path d="M385.5 220.05L388.05 224.64L382.95 224.64Z" fill="#1a5cff"/>
<text x="397.7" y="225.4" font-size="9" text-anchor="middle" font-weight="normal" font-style="normal" >γ</text>
<line x1="406" y1="222.8" x2="423" y2="222.8" stroke="#000" stroke-width="1.4"/>
<text x="427" y="225.8" font-size="8.4" text-anchor="start" font-weight="bold" font-style="normal" >Fitting curve</text>
<rect x="308.9" y="232.3" width="95" height="95" rx="1" fill="#fff" stroke="#555" stroke-width="1.3"/>
<line x1="313.9" y1="267.1" x2="323.59" y2="245.66" stroke="#ff0a0a" stroke-width="1.5"/>
<path d="M320.79 246.78L323.8 245.2L324.6 248.5" fill="none" stroke="#ff0a0a" stroke-width="1.5" stroke-linejoin="miter" stroke-linecap="round"/>
<line x1="313.9" y1="267.1" x2="329" y2="267.1" stroke="#000" stroke-width="1.5"/>
<path d="M326.82 265.01L329.5 267.1L326.82 269.19" fill="none" stroke="#000" stroke-width="1.5" stroke-linejoin="miter" stroke-linecap="round"/>
<line x1="313.9" y1="267.1" x2="329.22" y2="289.39" stroke="#1e5cc4" stroke-width="1.5"/>
<path d="M329.71 286.41L329.5 289.8L326.26 288.78" fill="none" stroke="#1e5cc4" stroke-width="1.5" stroke-linejoin="miter" stroke-linecap="round"/>
<text x="319.6" y="243.8" font-size="10.8" font-weight="bold" font-style="italic">m<tspan font-size="7.2" font-weight="normal" font-style="italic" dy="1.5">A</tspan></text>
<line x1="321" y1="236.2" x2="328.6" y2="236.2" stroke="#8a8a8a" stroke-width="1.1"/>
<text x="332.5" y="263.8" font-size="11.2" font-weight="bold">M<tspan font-size="7.2" dy="1.1">IP</tspan></text>
<text x="331.8" y="287.6" font-size="10.8" font-weight="bold" font-style="italic">m<tspan font-size="7.2" font-weight="normal" font-style="italic" dy="1.5">B</tspan></text>
<line x1="333.2" y1="280" x2="340.8" y2="280" stroke="#8a8a8a" stroke-width="1.1"/>
<line x1="309" y1="301.3" x2="323.1" y2="301.3" stroke="#5a5a5a" stroke-width="1.3"/>
<path d="M321.08 299.33L323.6 301.3L321.08 303.27" fill="none" stroke="#5a5a5a" stroke-width="1.3" stroke-linejoin="miter" stroke-linecap="round"/>
<text x="324.9" y="304.6" font-size="10.5" font-weight="bold" font-style="italic">H</text>
<line x1="334.1" y1="299.5" x2="342.7" y2="299.5" stroke="#000" stroke-width="1.0"/>
<line x1="334.1" y1="301.9" x2="342.7" y2="301.9" stroke="#000" stroke-width="1.0"/>
<line x1="336.5" y1="304.5" x2="340.5" y2="297.1" stroke="#000" stroke-width="1.0"/>
<text x="343.6" y="304.6" font-size="10.5" font-weight="bold">0</text>
<text x="308.3" y="315.9" font-size="9.5" font-weight="bold">z</text>
<line x1="308.8" y1="316.2" x2="313.6" y2="309.6" stroke="#333" stroke-width="0.8"/>
<path d="M311.3 315.6L313.8 320.2L308.9 320.2Z" fill="#000"/>
<polyline points="311.3,320 311.3,323.1 317.2,323.1" fill="none" stroke="#000" stroke-width="0.9"/>
<path d="M321.8 323.1L316.8 320.9L316.8 325.3Z" fill="#000"/>
<text x="322.4" y="325.6" font-size="9" font-weight="bold">y</text>
<line x1="377.3" y1="268.8" x2="387.2" y2="245.86" stroke="#ff0a0a" stroke-width="1.5"/>
<path d="M384.42 247.03L387.4 245.4L388.26 248.69" fill="none" stroke="#ff0a0a" stroke-width="1.5" stroke-linejoin="miter" stroke-linecap="round"/>
<line x1="377.3" y1="268.8" x2="360.7" y2="290.6" stroke="#1e5cc4" stroke-width="1.5"/>
<path d="M363.69 290.14L360.4 291L360.36 287.6" fill="none" stroke="#1e5cc4" stroke-width="1.5" stroke-linejoin="miter" stroke-linecap="round"/>
<line x1="358.8" y1="268.8" x2="392" y2="268.8" stroke="#000" stroke-width="1.6"/>
<path d="M389.82 266.71L392.5 268.8L389.82 270.89" fill="none" stroke="#000" stroke-width="1.6" stroke-linejoin="miter" stroke-linecap="round"/>
<path d="M360.98 270.89L358.3 268.8L360.98 266.71" fill="none" stroke="#000" stroke-width="1.6" stroke-linejoin="miter" stroke-linecap="round"/>
<text x="381.6" y="245" font-size="10.8" font-weight="bold" font-style="italic">m<tspan font-size="7.2" font-weight="normal" font-style="italic" dy="1.5">A</tspan></text>
<line x1="383" y1="237.4" x2="390.6" y2="237.4" stroke="#8a8a8a" stroke-width="1.1"/>
<text x="370.2" y="289.2" font-size="10.8" font-weight="bold" font-style="italic">m<tspan font-size="7.2" font-weight="normal" font-style="italic" dy="1.5">B</tspan></text>
<line x1="371.6" y1="281.6" x2="379.2" y2="281.6" stroke="#8a8a8a" stroke-width="1.1"/>
<text x="359.3" y="263.1" font-size="11.2" font-weight="bold">M<tspan font-size="6.6" dy="2.2">a</tspan></text>
<text x="381.9" y="264.5" font-size="11.2" font-weight="bold">M</text>
<text x="394.6" y="267.9" font-size="6.8" font-weight="bold">a'</text>
<line x1="366.5" y1="308.2" x2="366.5" y2="296.6" stroke="#5a5a5a" stroke-width="1.2"/>
<path d="M364.52 298.08L366.5 296.1L368.48 298.08" fill="none" stroke="#5a5a5a" stroke-width="1.2" stroke-linejoin="miter" stroke-linecap="round"/>
<text x="371.4" y="305.1" font-size="10.5" font-weight="bold" font-style="italic">H</text>
<line x1="380.8" y1="300.1" x2="389.4" y2="300.1" stroke="#000" stroke-width="1.0"/>
<line x1="380.8" y1="302.5" x2="389.4" y2="302.5" stroke="#000" stroke-width="1.0"/>
<line x1="383.2" y1="305.1" x2="387.2" y2="297.7" stroke="#000" stroke-width="1.0"/>
<text x="390.4" y="305.1" font-size="10.5" font-weight="bold">0</text>
<text x="365.4" y="317.9" font-size="11.2" font-weight="bold">M<tspan font-size="6.6" dy="2.2">a</tspan><tspan dy="-2.2" dx="0.2" font-weight="normal">&gt;</tspan><tspan dx="0.3">M</tspan><tspan font-size="6.6" dy="2.2">a'</tspan></text>
</svg></body></html>
